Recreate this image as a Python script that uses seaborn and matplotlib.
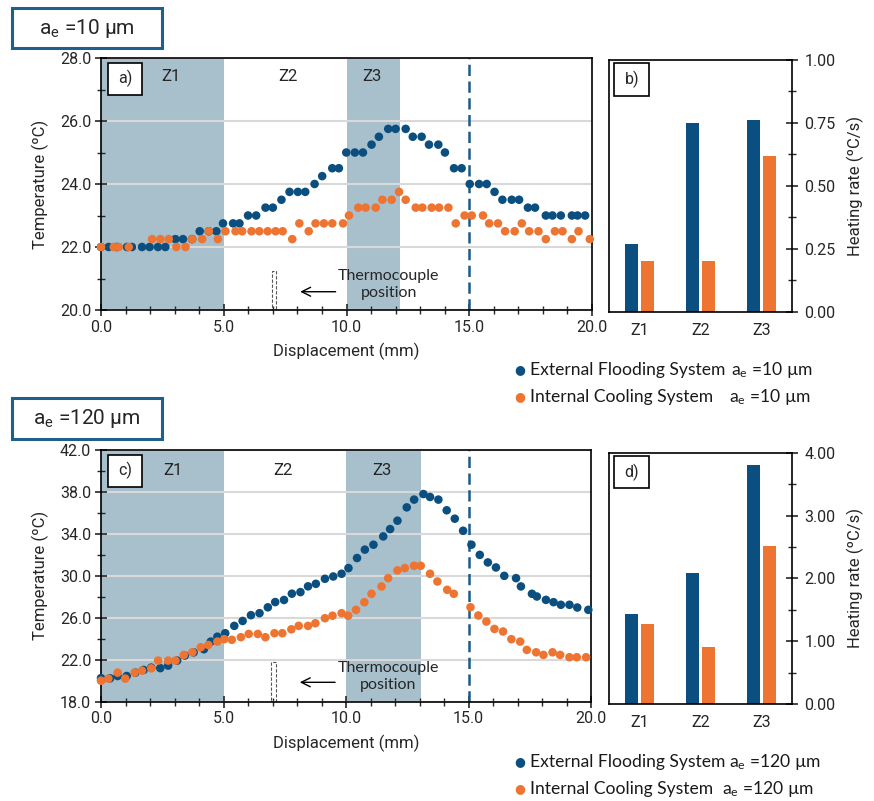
import numpy as np
import pandas as pd
import matplotlib
matplotlib.use("Agg")
import matplotlib.pyplot as plt
from matplotlib.patches import Rectangle
from matplotlib.ticker import MultipleLocator, FixedLocator, FormatStrFormatter
import seaborn as sns

# ---------------- data ----------------
EXT = "External Flooding System"
INT = "Internal Cooling System"

# a_e = 10 µm : temperature vs displacement
x10_ext = [0.0, 0.31, 0.65, 1.06, 1.26, 1.67, 1.98, 2.32, 2.62, 3.03, 3.34, 3.71,
           4.02, 4.39, 4.70, 4.97, 5.38, 5.64, 5.99, 6.32, 6.70, 7.00, 7.35, 7.68,
           8.02, 8.32, 8.70, 9.01, 9.42, 9.69, 9.99, 10.34, 10.67, 11.02, 11.32,
           11.70, 12.00, 12.41, 12.70, 13.06, 13.36, 13.74, 14.01, 14.38, 14.69,
           15.02, 15.40, 15.71, 16.03, 16.35, 16.73, 17.03, 17.39, 17.68, 18.12,
           18.39, 18.73, 19.18, 19.41, 19.72]
t10_ext = [22.0, 22.0, 22.0, 22.0, 22.0, 22.0, 22.0, 22.0, 22.0, 22.25, 22.25, 22.25,
           22.5, 22.5, 22.5, 22.75, 22.75, 22.75, 23.0, 23.0, 23.25, 23.25, 23.5, 23.75,
           23.75, 23.75, 24.0, 24.25, 24.5, 24.5, 25.0, 25.0, 25.0, 25.25, 25.5,
           25.75, 25.75, 25.75, 25.5, 25.5, 25.25, 25.25, 25.0, 24.5, 24.5,
           24.0, 24.0, 24.0, 23.75, 23.5, 23.5, 23.5, 23.25, 23.25, 23.0,
           23.0, 23.0, 23.0, 23.0, 23.0]

x10_int = [0.0, 0.52, 0.72, 1.13, 2.08, 2.42, 2.76, 3.07, 3.44, 3.71, 4.12, 4.39,
           4.76, 5.07, 5.48, 5.75, 6.13, 6.45, 6.79, 7.11, 7.40, 7.79, 8.08, 8.46,
           8.74, 9.08, 9.42, 9.86, 10.10, 10.48, 10.78, 11.19, 11.46, 11.84, 12.14,
           12.41, 12.82, 13.09, 13.47, 13.77, 14.15, 14.45, 14.81, 15.10, 15.56,
           15.81, 16.17, 16.46, 16.85, 17.14, 17.44, 17.82, 18.12, 18.49, 18.80,
           19.18, 19.45, 19.91]
t10_int = [22.0, 22.0, 22.0, 22.0, 22.25, 22.25, 22.25, 22.0, 22.0, 22.25, 22.25, 22.5,
           22.25, 22.5, 22.5, 22.5, 22.5, 22.5, 22.5, 22.5, 22.5, 22.25, 22.75, 22.5,
           22.75, 22.75, 22.75, 22.75, 23.0, 23.25, 23.25, 23.25, 23.5, 23.5, 23.75,
           23.5, 23.25, 23.25, 23.25, 23.25, 23.25, 22.75, 23.0, 23.0, 23.0,
           22.75, 22.75, 22.5, 22.5, 22.75, 22.5, 22.5, 22.25, 22.5, 22.5,
           22.25, 22.5, 22.25]

# a_e = 120 µm : temperature vs displacement
x120_ext = [0.0, 0.37, 0.68, 1.05, 1.40, 1.74, 2.05, 2.42, 2.74, 3.11, 3.42, 3.78,
            4.20, 4.48, 4.75, 5.07, 5.44, 5.78, 6.12, 6.47, 6.81, 7.11, 7.47, 7.79,
            8.14, 8.45, 8.77, 9.14, 9.48, 9.82, 10.10, 10.45, 10.77, 11.12, 11.52,
            11.80, 12.10, 12.48, 12.78, 13.16, 13.43, 13.77, 14.11, 14.44, 14.78,
            15.12, 15.46, 15.79, 16.12, 16.46, 16.94, 17.14, 17.59, 17.79, 18.16,
            18.47, 18.77, 19.12, 19.44, 19.89]
t120_ext = [20.25, 20.23, 20.45, 20.45, 20.77, 21.03, 21.25, 21.2, 21.44, 21.92, 22.4, 22.7,
            23.0, 23.73, 24.2, 24.53, 25.23, 25.7, 26.25, 26.44, 27.0, 27.5, 27.7, 28.3,
            28.45, 29.0, 29.24, 29.72, 29.94, 30.2, 30.74, 31.7, 32.5, 32.97, 33.76,
            34.46, 35.26, 36.53, 37.27, 37.8, 37.52, 37.27, 36.25, 35.45, 34.3,
            32.97, 32.0, 31.28, 30.8, 30.0, 29.78, 28.99, 28.29, 28.03, 27.71,
            27.49, 27.24, 27.24, 26.98, 26.76]

x120_int = [0.0, 0.30, 0.68, 0.99, 1.37, 1.67, 2.05, 2.33, 2.74, 3.04, 3.38, 3.73,
            4.07, 4.38, 4.75, 5.03, 5.34, 5.71, 6.03, 6.40, 6.71, 7.08, 7.40, 7.77,
            8.07, 8.45, 8.75, 9.14, 9.45, 9.82, 10.09, 10.41, 10.75, 11.04, 11.45,
            11.72, 12.10, 12.40, 12.78, 13.05, 13.43, 13.73, 14.13, 14.40, 15.08,
            15.40, 15.73, 16.06, 16.41, 16.75, 17.11, 17.38, 17.76, 18.06, 18.43,
            18.74, 19.12, 19.42, 19.80]
t120_int = [20.0, 20.2, 20.77, 20.2, 20.77, 20.96, 21.18, 21.92, 21.92, 21.92, 22.46, 22.71,
            23.19, 23.41, 23.73, 23.96, 23.9, 24.15, 24.46, 24.46, 24.15, 24.53, 24.53, 24.9,
            25.23, 25.23, 25.48, 25.96, 26.2, 26.44, 26.2, 26.76, 27.49, 28.29, 28.99,
            29.78, 30.52, 30.74, 30.96, 30.96, 30.2, 29.46, 28.67, 28.29, 27.01,
            26.22, 25.64, 24.94, 24.69, 23.96, 23.73, 22.94, 22.71, 22.46, 22.71,
            22.46, 22.24, 22.24, 22.24]

# heating rate per zone (ºC/s)
zones = ["Z1", "Z2", "Z3"]
rate10_ext = [0.27, 0.75, 0.76]
rate10_int = [0.20, 0.20, 0.62]
rate120_ext = [1.43, 2.08, 3.80]
rate120_int = [1.27, 0.91, 2.51]

# temperature axis ticks
temp10_ticks = [20.0, 22.0, 24.0, 26.0, 28.0]
temp120_ticks = [18.0, 22.0, 26.0, 30.0, 34.0, 38.0, 42.0]

# ---------------- style ----------------
BLUE = "#0b4f80"
ORANGE = "#ee7431"
SHADE = "#a8bfcc"
DASH = "#1d5a89"
BOXC = "#1f5f8b"
GRID = "#d9d9d9"
SANS = ["Roboto", "DejaVu Sans"]
BODY = ["Lato", "DejaVu Sans"]

sns.set_theme(style="white")
plt.rcParams["font.family"] = SANS
plt.rcParams["mathtext.default"] = "regular"
plt.rcParams["axes.edgecolor"] = "black"
plt.rcParams["axes.linewidth"] = 1.2

W, H = 874, 801
fig = plt.figure(figsize=(W / 100, H / 100), dpi=100)


def px_rect(l, t, r, b):
    return [l / W, 1 - b / H, (r - l) / W, (b - t) / H]


ax_a = fig.add_axes(px_rect(101, 58, 592, 310))
ax_b = fig.add_axes(px_rect(609, 60, 792, 311.7))
ax_c = fig.add_axes(px_rect(101, 450, 591, 701.7))
ax_d = fig.add_axes(px_rect(609, 452.7, 792, 704))


def tag_box(ax, text, x0, y0, x1, y1):
    ax.add_patch(Rectangle((x0, y0), x1 - x0, y1 - y0, transform=ax.transAxes,
                           facecolor="white", edgecolor="black", lw=1.2, zorder=6,
                           clip_on=False))
    ax.text((x0 + x1) / 2, (y0 + y1) / 2, text, transform=ax.transAxes,
            ha="center", va="center", fontsize=11.5, zorder=7)


def temp_panel(ax, xe, te, xi, ti, z3_end, yticks, minor, tc_top,
               arrow_y, text_y, zone_y, zone_x, tag):
    df = pd.concat([
        pd.DataFrame({"x": xe, "T": te, "system": EXT}),
        pd.DataFrame({"x": xi, "T": ti, "system": INT}),
    ], ignore_index=True)
    ax.axvspan(0, 5, color=SHADE, lw=0, zorder=0)
    ax.axvspan(10, z3_end, color=SHADE, lw=0, zorder=0)
    sns.scatterplot(data=df, x="x", y="T", hue="system",
                    palette={EXT: BLUE, INT: ORANGE}, s=38, linewidth=0,
                    legend=False, ax=ax, zorder=3, clip_on=False)
    ax.axvline(15, color=DASH, lw=1.8, dashes=(4.5, 2.2), zorder=2)
    ax.set_xlim(0, 20)
    ax.set_ylim(yticks[0], yticks[-1])
    ax.set_axisbelow(True)
    ax.grid(axis="y", which="major", color=GRID, lw=1.5)
    ax.xaxis.set_major_locator(MultipleLocator(5))
    ax.xaxis.set_minor_locator(MultipleLocator(1))
    ax.yaxis.set_major_locator(FixedLocator(yticks))
    ax.yaxis.set_minor_locator(MultipleLocator(minor))
    ax.xaxis.set_major_formatter(FormatStrFormatter("%.1f"))
    ax.yaxis.set_major_formatter(FormatStrFormatter("%.1f"))
    ax.tick_params(which="major", direction="inout", length=8, width=1.2,
                   labelsize=11.5, pad=3, bottom=True, left=True)
    ax.tick_params(which="minor", direction="inout", length=6, width=1.0,
                   bottom=True, left=True)
    ax.set_xlabel("Displacement (mm)", fontsize=12, labelpad=6)
    ax.set_ylabel("Temperature (ºC)", fontsize=12, labelpad=8)
    for s in ax.spines.values():
        s.set_visible(True)
        s.set_color("black")
    # zone names
    for zx, zn in zip(zone_x, zones):
        ax.text(zx, zone_y, zn, transform=ax.get_xaxis_transform(),
                ha="center", va="center", fontsize=12, zorder=5)
    # thermocouple marker, arrow and caption
    ax.add_patch(Rectangle((6.95, yticks[0]), 0.18, tc_top - yticks[0], fill=False,
                           edgecolor="#555555", lw=0.8, ls=(0, (3, 1.5)), zorder=2))
    ax.annotate("", xy=(8.0, arrow_y), xytext=(9.67, arrow_y),
                arrowprops=dict(arrowstyle="->", lw=1.0, color="black",
                                mutation_scale=16), zorder=4)
    ax.text(11.72, text_y, "Thermocouple\nposition", ha="center", va="center",
            fontsize=11.5, family=BODY, color="#262626", linespacing=1.25, zorder=4)
    tag_box(ax, tag, 0.015, 0.853, 0.083, 0.982)


def rate_panel(ax, r_ext, r_int, ymax, major, minor, tag):
    df = pd.DataFrame({"zone": zones * 2,
                       "system": [EXT] * 3 + [INT] * 3,
                       "rate": r_ext + r_int})
    sns.barplot(data=df, x="zone", y="rate", hue="system",
                palette={EXT: BLUE, INT: ORANGE}, width=0.5, gap=0.15,
                saturation=1, legend=False, ax=ax, linewidth=0)
    ax.set_xlim(-0.5, 2.5)
    ax.set_ylim(0, ymax)
    ax.yaxis.set_major_locator(MultipleLocator(major))
    ax.yaxis.set_minor_locator(MultipleLocator(minor))
    ax.yaxis.set_major_formatter(FormatStrFormatter("%.2f"))
    ax.yaxis.tick_right()
    ax.yaxis.set_label_position("right")
    ax.tick_params(axis="y", which="major", direction="inout", length=8, width=1.2,
                   labelsize=11.5, right=True, left=False, pad=5)
    ax.tick_params(axis="y", which="minor", direction="inout", length=6, width=1.0,
                   right=True, left=False)
    ax.tick_params(axis="x", length=0, labelsize=11.5, pad=8)
    ax.set_xlabel("")
    ax.set_ylabel("Heating rate (ºC/s)", fontsize=12, labelpad=8)
    for s in ax.spines.values():
        s.set_visible(True)
        s.set_color("black")
    tag_box(ax, tag, 0.029, 0.858, 0.219, 0.987)


temp_panel(ax_a, x10_ext, t10_ext, x10_int, t10_int, 12.18, temp10_ticks, 1,
           21.25, 20.58, 20.8, 0.926, [2.86, 7.6, 11.05], "a)")
temp_panel(ax_c, x120_ext, t120_ext, x120_int, t120_int, 13.08, temp120_ticks, 2,
           21.8, 19.85, 20.4, 0.918, [2.93, 7.42, 11.45], "c)")
rate_panel(ax_b, rate10_ext, rate10_int, 1.0, 0.25, 0.125, "b)")
rate_panel(ax_d, rate120_ext, rate120_int, 4.0, 1.0, 0.5, "d)")


# boxed headings for each depth of cut
def heading(top, bottom, label):
    fig.add_artist(Rectangle((12 / W, 1 - bottom / H), 150 / W, (bottom - top) / H,
                             transform=fig.transFigure, fill=False,
                             edgecolor=BOXC, lw=2.2))
    fig.text(87 / W, 1 - (top + bottom) / 2 / H, label, ha="center", va="center",
             fontsize=15)


heading(8, 48, r"a$_{e}$ =10 µm")
heading(398, 439, r"a$_{e}$ =120 µm")


# legend entries
def legend_row(y, color, name, ae_x, ae_label):
    fig.text(520 / W, 1 - y / H, "●", color=color, ha="center", va="center",
             fontsize=9, family=["DejaVu Sans"])
    fig.text(530 / W, 1 - y / H, name, ha="left", va="center", fontsize=12.6,
             family=BODY, color="#1a1a1a")
    fig.text(ae_x / W, 1 - y / H, ae_label, ha="left", va="center", fontsize=12.6,
             family=BODY, color="#1a1a1a")


legend_row(370, BLUE, EXT, 731, r"a$_{e}$ =10 µm")
legend_row(397, ORANGE, INT, 729, r"a$_{e}$ =10 µm")
legend_row(762, BLUE, EXT, 729, r"a$_{e}$ =120 µm")
legend_row(789, ORANGE, INT, 722, r"a$_{e}$ =120 µm")

fig.savefig("out.png", dpi=100)
